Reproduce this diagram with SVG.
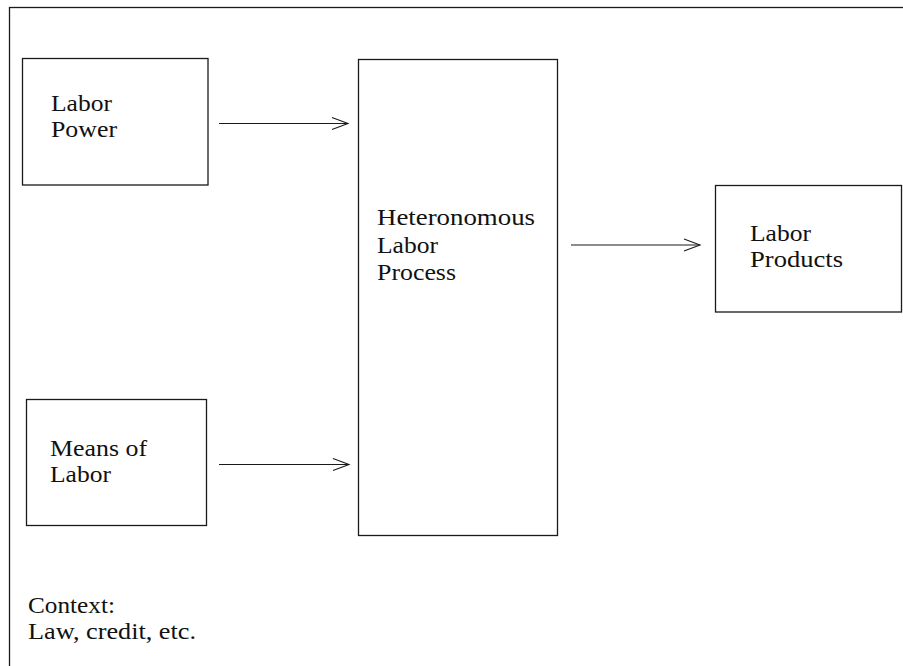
<svg xmlns="http://www.w3.org/2000/svg" width="903" height="666" viewBox="0 0 903 666">
<style>
  .box { fill: #ffffff; stroke: #1a1a1a; stroke-width: 1.3; }
  .frame { fill: none; stroke: #1a1a1a; stroke-width: 1.3; }
  .lbl { font-family: "Liberation Serif", "Times New Roman", serif; font-size: 23px; fill: #111111; }
  .conn { stroke: #1a1a1a; stroke-width: 1.1; fill: none; marker-end: url(#chev); }
</style>
<defs>
  <marker id="chev" markerUnits="userSpaceOnUse" markerWidth="20" markerHeight="16" refX="17" refY="7" orient="auto">
    <path d="M1,1 L17,7 L1,13" fill="none" stroke="#1a1a1a" stroke-width="1.1"/>
  </marker>
</defs>
<rect width="903" height="666" fill="#ffffff"/>
<g id="context">
  <rect class="frame" x="9.5" y="7.5" width="910" height="680"/>
  <text class="lbl" x="28" y="613" textLength="87" lengthAdjust="spacingAndGlyphs">Context:</text>
  <text class="lbl" x="28" y="639" textLength="168" lengthAdjust="spacingAndGlyphs">Law, credit, etc.</text>
</g>
<g id="labor-power">
  <rect class="box" x="22.5" y="58.5" width="185.5" height="126.5"/>
  <text class="lbl" x="51" y="110.5" textLength="61" lengthAdjust="spacingAndGlyphs">Labor</text>
  <text class="lbl" x="51" y="137" textLength="66" lengthAdjust="spacingAndGlyphs">Power</text>
</g>
<g id="means-of-labor">
  <rect class="box" x="26.5" y="399.5" width="180" height="126"/>
  <text class="lbl" x="50" y="455.5" textLength="97" lengthAdjust="spacingAndGlyphs">Means of</text>
  <text class="lbl" x="50" y="482" textLength="61" lengthAdjust="spacingAndGlyphs">Labor</text>
</g>
<g id="labor-process">
  <rect class="box" x="358.5" y="59.5" width="199" height="476"/>
  <text class="lbl" x="377" y="225" textLength="158" lengthAdjust="spacingAndGlyphs">Heteronomous</text>
  <text class="lbl" x="377" y="252.5" textLength="61" lengthAdjust="spacingAndGlyphs">Labor</text>
  <text class="lbl" x="377" y="280" textLength="79" lengthAdjust="spacingAndGlyphs">Process</text>
</g>
<g id="labor-products">
  <rect class="box" x="715.5" y="185.5" width="186" height="126.5"/>
  <text class="lbl" x="750" y="240.5" textLength="61" lengthAdjust="spacingAndGlyphs">Labor</text>
  <text class="lbl" x="750" y="267" textLength="93" lengthAdjust="spacingAndGlyphs">Products</text>
</g>
<g id="connectors">
  <line class="conn" x1="219" y1="123.5" x2="348" y2="123.5"/>
  <line class="conn" x1="219" y1="464.5" x2="349" y2="464.5"/>
  <line class="conn" x1="571" y1="245" x2="700" y2="245"/>
</g>
</svg>
